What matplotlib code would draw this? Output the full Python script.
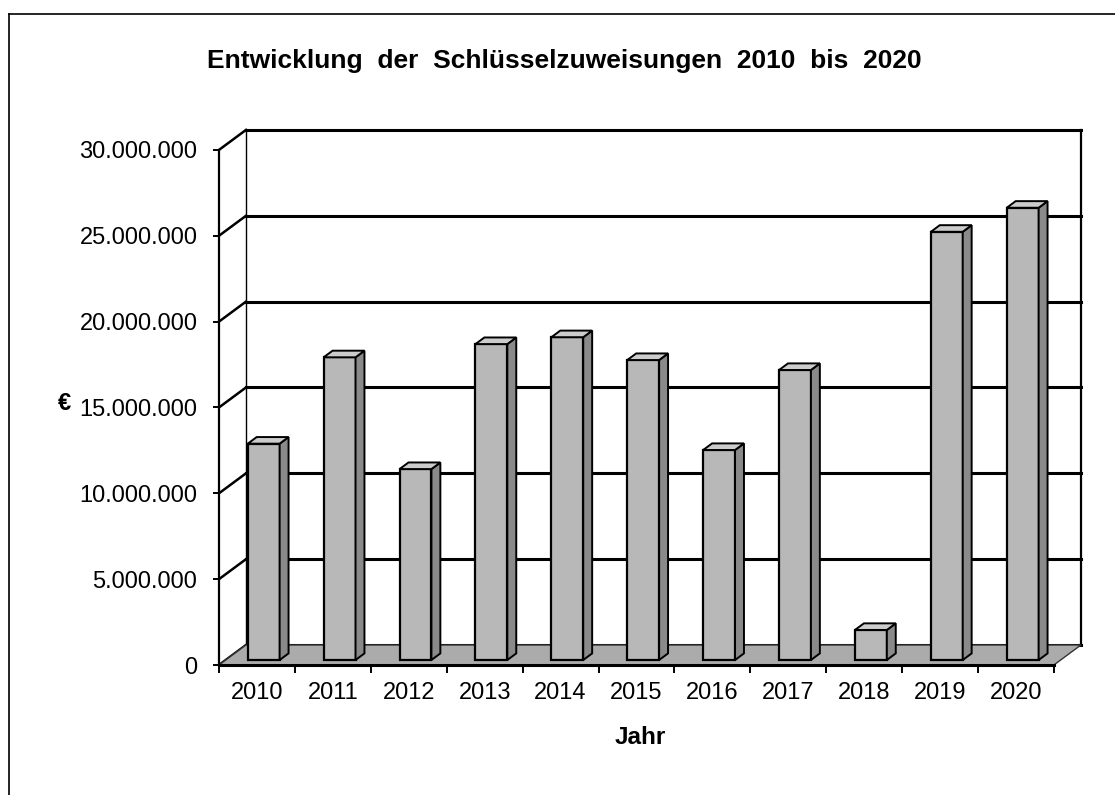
import matplotlib
matplotlib.use('Agg')
import matplotlib.pyplot as plt
from matplotlib.patches import Polygon
from matplotlib.lines import Line2D
from matplotlib.ticker import FuncFormatter, FixedLocator

plt.rcParams['font.family'] = ['Liberation Sans', 'DejaVu Sans']

# Daten
jahre = ['2010', '2011', '2012', '2013', '2014', '2015', '2016', '2017', '2018', '2019', '2020']
zuweisungen = [12_600_000, 17_630_000, 11_120_000, 18_400_000, 18_800_000, 17_470_000,
               12_230_000, 16_890_000, 1_750_000, 24_940_000, 26_340_000]
y_ticks = [0, 5_000_000, 10_000_000, 15_000_000, 20_000_000, 25_000_000, 30_000_000]

# Pseudo-3D Tiefe (in Kategorie- bzw. Werteinheiten)
dx = 0.356
dy = 1_165_000
d0, d1 = 0.25, 0.58   # Vorder-/Rueckseite der Saeulen als Anteil der Tiefe
bw = 0.42             # Saeulenbreite
n = len(jahre)
ymax = y_ticks[-1]

W, H = 1115, 795
fig = plt.figure(figsize=(W / 100, H / 100), dpi=100)
x0_px, x1_px, y0_px, y1_px = 219, 219 + (n + dx) * 75.9, 665, 665 - (ymax + dy) / 1e6 * 17.17
ax = fig.add_axes([x0_px / W, (H - y0_px) / H, (x1_px - x0_px) / W, (y0_px - y1_px) / H])
ax.set_xlim(0, n + dx)
ax.set_ylim(0, ymax + dy)
ax.set_facecolor('none')

# Rahmen (nur links und oben sichtbar)
fig.add_artist(Line2D([9 / W, 9 / W], [0, 1 - 14 / H], color='black', lw=1.2))
fig.add_artist(Line2D([9 / W, 1], [1 - 14 / H, 1 - 14 / H], color='black', lw=1.2))

# Rueckwand + Gitterlinien
for v in y_ticks:
    ax.plot([dx, n + dx], [v + dy, v + dy], color='black', lw=2.2, zorder=1, clip_on=False)
    ax.plot([0, dx], [v, v + dy], color='black', lw=1.8, zorder=1, clip_on=False)
ax.plot([dx, dx], [dy, ymax + dy], color='black', lw=1.0, zorder=1, clip_on=False)
ax.plot([n + dx, n + dx], [dy, ymax + dy], color='black', lw=1.6, zorder=1, clip_on=False)

# Boden
ax.add_patch(Polygon([(0, 0), (n, 0), (n + dx, dy), (dx, dy)], closed=True,
                     facecolor='#ababab', edgecolor='#333333', lw=1.0, zorder=2, clip_on=False))

# Saeulen
xs = [i + (1 - bw) / 2 + d0 * dx for i in range(n)]
ax.bar(xs, zuweisungen, width=bw, bottom=d0 * dy, align='edge',
       color='#b8b8b8', edgecolor='black', lw=1.6, zorder=3)
ddx, ddy = (d1 - d0) * dx, (d1 - d0) * dy
for x, v in zip(xs, zuweisungen):
    b = d0 * dy
    side = [(x + bw, b), (x + bw, b + v), (x + bw + ddx, b + v + ddy), (x + bw + ddx, b + ddy)]
    top = [(x, b + v), (x + bw, b + v), (x + bw + ddx, b + v + ddy), (x + ddx, b + v + ddy)]
    ax.add_patch(Polygon(side, closed=True, facecolor='#8a8a8a', edgecolor='black', lw=1.4, zorder=3))
    ax.add_patch(Polygon(top, closed=True, facecolor='#cccccc', edgecolor='black', lw=1.4, zorder=3))

# Achsen
for s in ['top', 'right']:
    ax.spines[s].set_visible(False)
ax.spines['left'].set_bounds(0, ymax)
ax.spines['left'].set_linewidth(1.6)
ax.spines['bottom'].set_bounds(0, n)
ax.spines['bottom'].set_linewidth(2.2)
ax.spines['left'].set_zorder(4)
ax.spines['bottom'].set_zorder(4)

ax.yaxis.set_major_locator(FixedLocator(y_ticks))
ax.yaxis.set_major_formatter(FuncFormatter(lambda v, _: f'{int(v):,}'.replace(',', '.')))
ax.tick_params(axis='y', direction='out', length=4.5, width=1.4, pad=11, labelsize=17)

ax.set_xticks(range(n + 1))
ax.set_xticklabels([])
ax.set_xticks([i + 0.5 for i in range(n)], minor=True)
ax.set_xticklabels(jahre, minor=True)
ax.tick_params(axis='x', which='major', direction='out', length=6, width=1.4)
ax.tick_params(axis='x', which='minor', length=0, pad=12, labelsize=17)

fig.text(564 / W, 1 - 68 / H, 'Entwicklung  der  Schlüsselzuweisungen  2010  bis  2020',
         ha='center', va='baseline', fontsize=19, fontweight='bold')
fig.text(640 / W, 1 - 737 / H, 'Jahr', ha='center', va='center', fontsize=17.5, fontweight='bold')
fig.text(64 / W, 1 - 403 / H, '€', ha='center', va='center', fontsize=17, fontweight='bold')

fig.savefig('out.png', dpi=100)
